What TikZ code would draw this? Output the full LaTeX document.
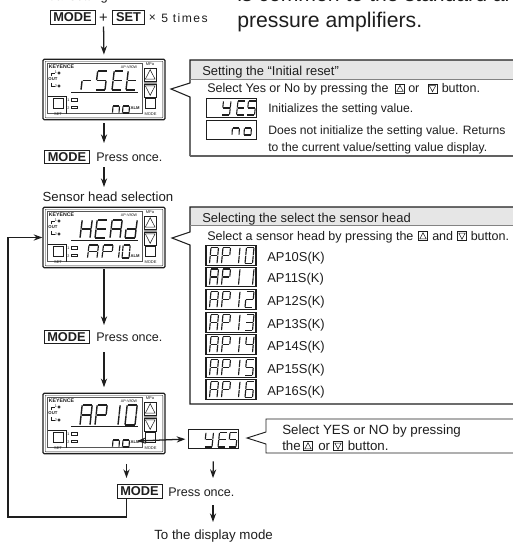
\documentclass[tikz,border=0pt]{standalone}
\usepackage{fontspec}
\setmainfont{Liberation Sans}
\newfontfamily\spacedfont[LetterSpace=12]{Liberation Sans}
\usetikzlibrary{arrows.meta,calc}
\definecolor{ink}{HTML}{1E1E1E}
\definecolor{headgray}{HTML}{E6E6E6}
\tikzset{
  conn/.style={draw=ink,line width=.95pt},
  arr/.style={conn,-{Stealth[length=6.5pt,width=4.6pt]}},
  seg/.style={draw=ink,line cap=butt,shorten <=.3pt,shorten >=.3pt},
  txt/.style={anchor=base west,inner sep=0pt,text=ink,font=\fontsize{9.1}{11}\selectfont},
  sel/.style={txt,font=\fontsize{9.4}{11}\selectfont},
  big/.style={txt,font=\fontsize{15.9}{19}\selectfont},
  key/.style={draw=ink,line width=.6pt,inner sep=0pt,text=ink,minimum height=10pt,font=\bfseries\fontsize{9.6}{11}\selectfont},
  mini/.style={draw=ink,line width=.7pt,minimum width=37.5pt,minimum height=14.8pt,inner sep=0pt},
  tiny/.style={inner sep=0pt,text=ink,font=\fontsize{3.6}{4}\selectfont},
  panelbox/.style={draw=ink,line width=.9pt,rounded corners=1pt,minimum width=91.5pt,minimum height=45.5pt,inner sep=0pt,fill=white},
  upbtn/.style={draw=ink,line width=.4pt,minimum size=7pt,inner sep=0pt,
    path picture={\draw[line width=.4pt] ($(path picture bounding box.south west)+(1.1pt,1.3pt)$) -- ($(path picture bounding box.south east)+(-1.1pt,1.3pt)$) -- ($(path picture bounding box.north)+(0,-1.1pt)$) -- cycle;}},
  dnbtn/.style={draw=ink,line width=.4pt,minimum size=7pt,inner sep=0pt,
    path picture={\draw[line width=.4pt] ($(path picture bounding box.north west)+(1.1pt,-1.3pt)$) -- ($(path picture bounding box.north east)+(-1.1pt,-1.3pt)$) -- ($(path picture bounding box.south)+(0,1.1pt)$) -- cycle;}},
}
% seven segment lettering
\def\sga{0/0/1/0}\def\sgb{1/0/1/.5}\def\sgc{1/.5/1/1}\def\sgd{0/1/1/1}
\def\sge{0/.5/0/1}\def\sgf{0/0/0/.5}\def\sgg{0/.5/1/.5}
\def\glA{a,b,c,e,f,g}\def\glP{a,b,e,f,g}\def\glr{e,g}\def\glS{a,f,g,c,d}
\def\glE{a,f,g,e,d}\def\glt{f,e,g,d}\def\glH{f,b,g,e,c}\def\gld{b,c,d,e,g}
\def\gln{e,g,c}\def\glo{g,c,d,e}\def\glY{f,b,g,c,d}
\expandafter\def\csname gl0\endcsname{a,b,c,d,e,f}
\expandafter\def\csname gl1\endcsname{b,c}
\expandafter\def\csname gl2\endcsname{a,b,g,e,d}
\expandafter\def\csname gl3\endcsname{a,b,g,c,d}
\expandafter\def\csname gl4\endcsname{f,g,b,c}
\expandafter\def\csname gl5\endcsname{a,f,g,c,d}
\expandafter\def\csname gl6\endcsname{a,f,g,e,c,d}
\def\drawseg#1/#2/#3/#4\relax{\draw[seg] ({\sgX+#1*\sW+(1-#2)*\sL},{\sY+#2*\sH}) -- ({\sgX+#3*\sW+(1-#4)*\sL},{\sY+#4*\sH});}
\newcommand\sevenseg[6]{% line width, top, w, h, slant, list x/glyph
  \begin{scope}[seg/.append style={line width=#1}]
  \def\sY{#2}\def\sW{#3}\def\sH{#4}\def\sL{#5}
  \foreach \sgX/\g in {#6}{%
    \edef\lst{\csname gl\g\endcsname}%
    \foreach \s in \lst {\edef\tmp{\csname sg\s\endcsname}\expandafter\drawseg\tmp\relax}%
  }
  \end{scope}}
\newcommand\panel[2]{% name, top y
  \node[panelbox] (#1) at (104,{#2+30.5}) {};
  \begin{scope}[shift={(43,#2)}]
    \draw[ink,line width=.3pt,rounded corners=.5pt] (2.2,2.2) rectangle (119.8,58.8);
    \draw[ink!75,line width=.45pt] (4.5,4) rectangle (99.5,54.5);
    \draw[ink,line width=.6pt] (4.5,37.5) -- (23,37.5) -- (23,54.5);
    \fill[ink!45] (101,9) rectangle (113.5,38);
    \node[upbtn,minimum size=9.4pt,fill=white] (#1up) at (107.2,15.5) {};
    \node[dnbtn,minimum size=9.4pt,fill=white] (#1dn) at (107.2,31.5) {};
    \draw[ink,line width=.75pt,fill=white] (102,39.5) rectangle (112.5,49);
    \draw[ink,line width=.75pt,fill=white] (10.5,39.5) rectangle (20.5,49.5);
    \node[tiny,font=\bfseries\fontsize{3.9}{4}\selectfont] (#1brand) at (18.5,8) {KEYENCE};
    \node[tiny,font=\fontsize{2.8}{3}\selectfont] (#1model) at (86,8) {AP-V80W};
    \node[tiny,font=\fontsize{3}{3}\selectfont] (#1unit) at (107,5.2) {MPa};
    \node[tiny,font=\fontsize{3}{3}\selectfont] (#1set) at (15,55.6) {SET};
    \node[tiny,font=\fontsize{3}{3}\selectfont] (#1mode) at (107.5,55.6) {MODE};
    \node[tiny,font=\bfseries\fontsize{3.2}{3}\selectfont] (#1out) at (10,20.5) {OUT};
    \draw[ink,line width=.4pt] (8.7,17) -- (8.7,14) -- (11.5,14) (8.7,24) -- (8.7,27) -- (11.5,27);
    \draw[ink,line width=.55pt] (16,14) circle (1.1) (16,27) circle (1.1);
    \node[tiny,font=\fontsize{2.8}{3}\selectfont] (#1la) at (13,13.5) {1};
    \node[tiny,font=\fontsize{2.8}{3}\selectfont] (#1lb) at (13,27) {2};
    \node[tiny,font=\fontsize{2.8}{3}\selectfont] (#1lc) at (25.5,41) {1};
    \node[tiny,font=\fontsize{2.8}{3}\selectfont] (#1ld) at (25.5,48.7) {2};
    \draw[ink,line width=.45pt] (28,39.5) rectangle (34.5,42.2) (28,47) rectangle (34.5,49.7);
    \draw[ink,line width=.5pt] (28,33.5) -- (95,33.5);
    \node[tiny,font=\bfseries\fontsize{3.1}{3}\selectfont] (#1alm) at (92,49) {ALM};
  \end{scope}}
\begin{document}
\begin{tikzpicture}[x=.75pt,y=-.75pt]
\useasboundingbox[fill=white] (0,0) rectangle (513,543);
% clipped running text
\node[txt,anchor=base east,font=\fontsize{9.7}{11}\selectfont] (runa) at (108,0) {Initial setting};
\node[big] (runb) at (237,1.5) {is common to the standard and};
\node[big] (runc) at (237,27.5) {pressure amplifiers.};
% first row
\node[key,minimum width=33.7pt] (k1) at (72.5,17.5) {MODE};
\node[inner sep=0pt,text=ink,font=\fontsize{11}{12}\selectfont] (plus) at (103.5,18) {+};
\node[key,minimum width=24.5pt] (k2) at (128.5,17.5) {SET};
\node[inner sep=0pt,text=ink,font=\fontsize{9}{11}\selectfont] (times) at (152.5,18) {×};
\node[txt,font=\spacedfont\fontsize{9.1}{11}\selectfont] (ktimes) at (161,22) {5 times};
% panels
\panel{pa}{59}
\panel{pb}{207}
\panel{pc}{393}
\sevenseg{1.05pt}{71}{9.5}{19}{2.2}{81/r,95.5/S,112/E,126/t}
\sevenseg{.85pt}{99}{6.5}{14}{1}{112.5/n,122.5/o}
\sevenseg{1.05pt}{220}{10}{18}{2.2}{80/H,95/E,110/A,125/d}
\sevenseg{.85pt}{245}{9.5}{13}{1.5}{87.5/A,102/P,109/1}
\sevenseg{.85pt}{245}{7}{13}{1.2}{122/0}
\sevenseg{1.05pt}{405}{10}{20}{2.2}{80/A,95/P,108/1,125/0}
\sevenseg{.85pt}{433}{6.5}{14}{1}{112.5/n,122.5/o}
% first callout
\fill[headgray] (190,60) rectangle (520,79);
\draw[ink,line width=.8pt] (520,60) -- (190,60) -- (190,83) -- (171,89) -- (190,97) -- (190,156);
\draw[ink!70,line width=1pt] (190,156) -- (520,156);
\draw[ink!55,line width=.4pt] (190,79) -- (520,79);
\node[txt,font=\fontsize{9.7}{11}\selectfont] (ha) at (202,75) {Setting the “Initial reset”};
\node[sel] (sa) at (207,92.5) {Select Yes or No by pressing the};
\node[upbtn] (ua) at (400,88.5) {};
\node[sel] (sb) at (408,92.5) {or};
\node[dnbtn] (da) at (432.5,88.5) {};
\node[sel] (sc) at (441.5,92.5) {button.};
\node[mini] (ya) at (231.5,108) {};
\sevenseg{.8pt}{101}{7.5}{14}{1.5}{222/Y,236.5/E,247/S}
\node[txt] (ia) at (268,112) {Initializes the setting value.};
\node[mini] (na) at (231.5,130) {};
\sevenseg{.8pt}{121}{7}{14}{.8}{232/n,244/o}
\node[txt] (ib) at (268,134) {Does not initialize the setting value. Returns};
\node[txt] (ic) at (268,151) {to the current value/setting value display.};
% second callout
\fill[headgray] (190,207) rectangle (520,225);
\draw[ink,line width=.8pt] (520,207) -- (190,207) -- (190,232) -- (172,238) -- (190,245) -- (190,404) -- (520,404);
\draw[ink!55,line width=.4pt] (190,225) -- (520,225);
\node[txt,font=\fontsize{9.7}{11}\selectfont] (hb) at (202,222) {Selecting the select the sensor head};
\node[sel] (ta) at (207,240) {Select a sensor head by pressing the};
\node[upbtn] (ub) at (423,236) {};
\node[sel] (tb) at (432,240) {and};
\node[dnbtn] (db) at (462,236) {};
\node[sel] (tc) at (470.5,240) {button.};
\foreach \yy/\lab/\gx/\gg in {255.5/AP10S(K)/245/0, 277/AP11S(K)/245/1, 299.5/AP12S(K)/245/2, 322.5/AP13S(K)/245/3, 344.5/AP14S(K)/245/4, 367.5/AP15S(K)/245/5, 389.5/AP16S(K)/245/6}{
  \node[draw=ink,line width=.8pt,minimum width=37.5pt,minimum height=14.4pt,inner sep=0pt] (b\gg) at (231,\yy) {};
  \node[txt,font=\fontsize{9.7}{11}\selectfont] (l\gg) at (267,{\yy+5.5}) {\lab};
  \sevenseg{.85pt}{\yy-8}{7.5}{16}{1.5}{209.5/A,221.5/P,231/1,\gx/\gg}
}
% third callout
\draw[ink,line width=.7pt] (520,419) -- (266,419) -- (266,432) -- (247,438) -- (266,444) -- (266,453) -- (520,453);
\node[txt,font=\fontsize{10}{11}\selectfont] (ca) at (282,434) {Select YES or NO by pressing};
\node[txt,font=\fontsize{10}{11}\selectfont] (cb) at (282,450) {the};
\node[upbtn] (uc) at (308,446) {};
\node[txt,font=\fontsize{10}{11}\selectfont] (cc) at (318,450) {or};
\node[dnbtn] (dc) at (338,446) {};
\node[txt,font=\fontsize{10}{11}\selectfont] (cd) at (347.5,450) {button.};
\node[mini] (yb) at (213.5,439) {};
\sevenseg{.85pt}{432.5}{7.5}{14.5}{1.5}{204.5/Y,218/E,228.5/S}
% MODE keys
\node[key,minimum width=33.7pt] (k3) at (67,157) {MODE};
\node[txt,font=\fontsize{9.4}{11}\selectfont] (t3) at (96,161.5) {Press once.};
\node[txt,anchor=base,font=\fontsize{9.9}{11}\selectfont] (sh) at (108,201.5) {Sensor head selection};
\node[key,minimum width=33.7pt] (k4) at (66.5,337) {MODE};
\node[txt,font=\fontsize{9.4}{11}\selectfont] (t4) at (96,341.5) {Press once.};
\node[key,minimum width=33.7pt] (k5) at (139.5,491.5) {MODE};
\node[txt,font=\fontsize{9.4}{11}\selectfont] (t5) at (168,496) {Press once.};
\node[txt,font=\fontsize{10}{11}\selectfont] (end) at (154,539) {To the display mode};
% connectors
\coordinate (c1) at (104,143);
\coordinate (c2) at (104,167);
\coordinate (c3) at (104,187);
\coordinate (c4) at (104,325);
\coordinate (c5) at (104,352);
\coordinate (c6) at (126.5,478);
\coordinate (c7) at (213,478);
\coordinate (c8) at (213,505);
\coordinate (c9) at (213,522);
\coordinate (c10) at (8,517);
\coordinate (c11) at (137,441);
\draw[arr,shorten <=3pt,shorten >=3pt] (plus.south) -- (pa.north);
\draw[arr,shorten <=2pt] (pa.south) -- (c1);
\draw[arr] (c2) -- (c3);
\draw[arr,shorten <=.5pt] (pb.south) -- (c4);
\draw[arr,shorten >=4pt] (c5) -- (pc.north);
\draw[arr,shorten <=7pt] (pc.south -| c6) -- (c6);
\draw[arr,shorten <=9pt] (yb.south) -- (c7);
\draw[arr] (c8) -- (c9);
\draw[conn,line width=1.1pt,-{Stealth[length=6.5pt,width=4.6pt]}] (k5.south -| c6) -- (c6 |- c10) -- (c10) -- (c10 |- pb.west) -- (pb.west);
\draw[conn,{Stealth[length=6.5pt,width=4.6pt]}-{Stealth[length=6.5pt,width=4.6pt]},shorten >=2pt] (c11) -- (yb.west);
\end{tikzpicture}
\end{document}
